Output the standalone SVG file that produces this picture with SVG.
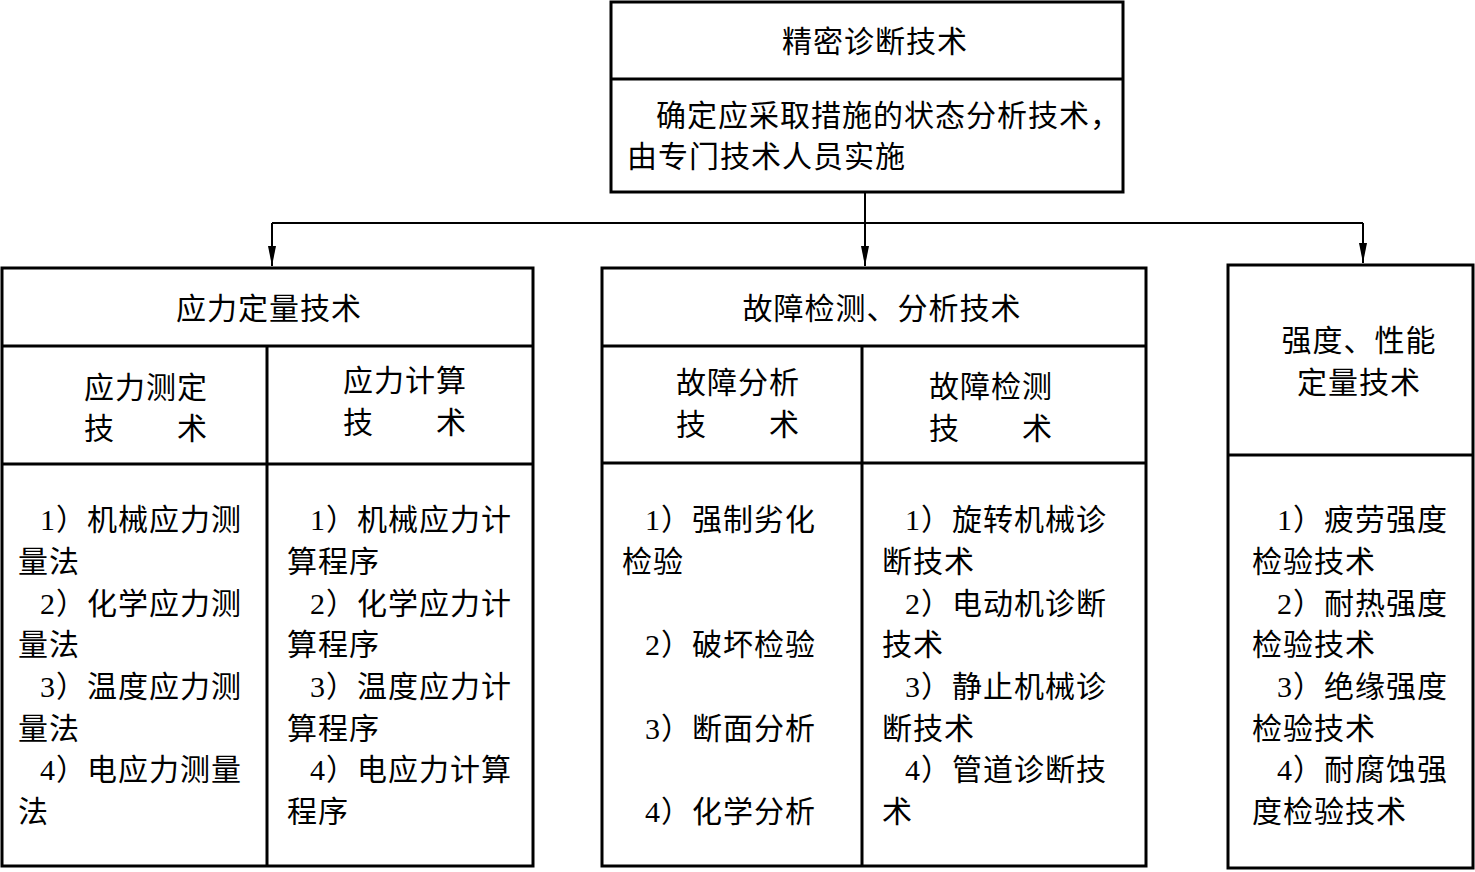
<svg xmlns="http://www.w3.org/2000/svg" width="1475" height="872" viewBox="0 0 1475 872">
<style>
.box{fill:#fff;stroke:#000;stroke-width:3}
.div{stroke:#000;stroke-width:3;fill:none}
.con{stroke:#000;stroke-width:2;fill:none}
.t{font-family:"Liberation Serif","Noto Sans CJK SC",serif;font-size:30px;letter-spacing:1px;fill:#000}
.m{text-anchor:middle}
</style>
<defs>
<marker id="arr" viewBox="0 0 20 8" refX="20" refY="4" markerWidth="20" markerHeight="8" markerUnits="userSpaceOnUse" orient="auto">
<path d="M0,0 L20,4 L0,8 Z" fill="#000"/>
</marker>
</defs>
<rect width="1475" height="872" fill="#fff"/>

<g id="connectors">
<path class="con" d="M865,192 V266" marker-end="url(#arr)"/>
<path class="con" d="M272,223 H1363"/>
<path class="con" d="M272,223 V266" marker-end="url(#arr)"/>
<path class="con" d="M1363,223 V263" marker-end="url(#arr)"/>
</g>

<g id="node-top">
<rect class="box" x="611" y="2" width="512" height="190"/>
<line class="div" x1="611" y1="79" x2="1123" y2="79"/>
<text class="t m" x="875" y="52">精密诊断技术</text>
<text class="t"><tspan x="656" y="126">确定应采取措施的状态分析技术，</tspan><tspan x="627" y="167">由专门技术人员实施</tspan></text>
</g>

<g id="node-stress">
<rect class="box" x="2" y="268" width="531" height="598"/>
<line class="div" x1="2" y1="346" x2="533" y2="346"/>
<line class="div" x1="2" y1="464" x2="533" y2="464"/>
<line class="div" x1="267" y1="346" x2="267" y2="866"/>
<text class="t m" x="269" y="319">应力定量技术</text>
<text class="t"><tspan x="84" y="398">应力测定</tspan><tspan x="84" y="439">技　　术</tspan></text>
<text class="t"><tspan x="343" y="391">应力计算</tspan><tspan x="343" y="433">技　　术</tspan></text>
<text class="t"><tspan x="40" y="530">1）机械应力测</tspan><tspan x="18" y="572">量法</tspan><tspan x="40" y="614">2）化学应力测</tspan><tspan x="18" y="655">量法</tspan><tspan x="40" y="697">3）温度应力测</tspan><tspan x="18" y="739">量法</tspan><tspan x="40" y="780">4）电应力测量</tspan><tspan x="18" y="822">法</tspan></text>
<text class="t"><tspan x="310" y="530">1）机械应力计</tspan><tspan x="287" y="572">算程序</tspan><tspan x="310" y="614">2）化学应力计</tspan><tspan x="287" y="655">算程序</tspan><tspan x="310" y="697">3）温度应力计</tspan><tspan x="287" y="739">算程序</tspan><tspan x="310" y="780">4）电应力计算</tspan><tspan x="287" y="822">程序</tspan></text>
</g>

<g id="node-fault">
<rect class="box" x="602" y="268" width="544" height="598"/>
<line class="div" x1="602" y1="346" x2="1146" y2="346"/>
<line class="div" x1="602" y1="463" x2="1146" y2="463"/>
<line class="div" x1="862" y1="346" x2="862" y2="866"/>
<text class="t m" x="882" y="319">故障检测、分析技术</text>
<text class="t"><tspan x="676" y="393">故障分析</tspan><tspan x="676" y="435">技　　术</tspan></text>
<text class="t"><tspan x="929" y="397">故障检测</tspan><tspan x="929" y="439">技　　术</tspan></text>
<text class="t"><tspan x="645" y="530">1）强制劣化</tspan><tspan x="622" y="572">检验</tspan><tspan x="645" y="655">2）破坏检验</tspan><tspan x="645" y="739">3）断面分析</tspan><tspan x="645" y="822">4）化学分析</tspan></text>
<text class="t"><tspan x="905" y="530">1）旋转机械诊</tspan><tspan x="882" y="572">断技术</tspan><tspan x="905" y="614">2）电动机诊断</tspan><tspan x="882" y="655">技术</tspan><tspan x="905" y="697">3）静止机械诊</tspan><tspan x="882" y="739">断技术</tspan><tspan x="905" y="780">4）管道诊断技</tspan><tspan x="882" y="822">术</tspan></text>
</g>

<g id="node-strength">
<rect class="box" x="1228" y="265" width="245" height="603"/>
<line class="div" x1="1228" y1="455" x2="1473" y2="455"/>
<text class="t m"><tspan x="1359" y="351">强度、性能</tspan><tspan x="1359" y="393">定量技术</tspan></text>
<text class="t"><tspan x="1277" y="530">1）疲劳强度</tspan><tspan x="1252" y="572">检验技术</tspan><tspan x="1277" y="614">2）耐热强度</tspan><tspan x="1252" y="655">检验技术</tspan><tspan x="1277" y="697">3）绝缘强度</tspan><tspan x="1252" y="739">检验技术</tspan><tspan x="1277" y="780">4）耐腐蚀强</tspan><tspan x="1252" y="822">度检验技术</tspan></text>
</g>
</svg>
